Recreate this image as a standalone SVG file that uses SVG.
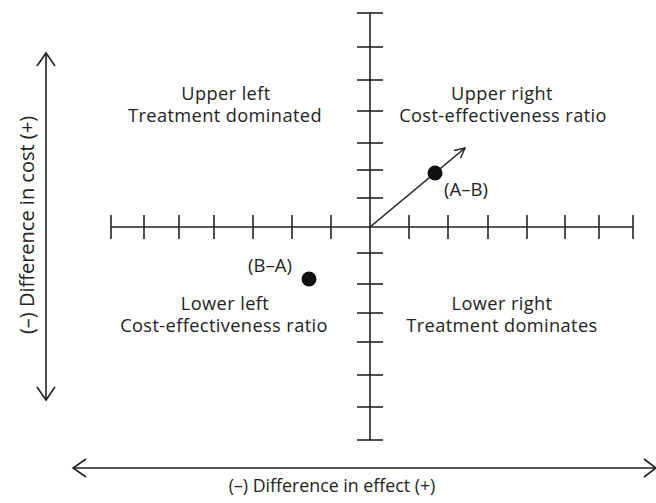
<svg xmlns="http://www.w3.org/2000/svg" width="656" height="503" viewBox="0 0 656 503">
<style>
.ax{stroke:#222;stroke-width:1.6;fill:none}
.tk{stroke:#222;stroke-width:1.6}
.t{font-family:"Open Sans","Liberation Sans",sans-serif;font-size:18.2px;letter-spacing:0.4px;fill:#222;text-anchor:middle}
.pl{font-size:18.5px;letter-spacing:0}
.yl{font-size:20px;letter-spacing:0}
.xl{font-size:17.8px;letter-spacing:0}
.dot{fill:#111}
</style>
<defs>
<marker id="open" viewBox="0 0 12 12" refX="11" refY="6" markerWidth="12" markerHeight="12" markerUnits="userSpaceOnUse" orient="auto">
<polyline points="1,1 11,6 1,11" fill="none" stroke="#222" stroke-width="1.4"/>
</marker>
</defs>
<rect width="656" height="503" fill="#fff"/>
<g id="connectors">
<line class="ax" x1="370" y1="13" x2="370" y2="440"/>
<line class="ax" x1="111" y1="227" x2="633" y2="227"/>
<g class="tk">
<line x1="357" y1="13" x2="383" y2="13"/>
<line x1="357" y1="47" x2="383" y2="47"/>
<line x1="357" y1="80" x2="383" y2="80"/>
<line x1="357" y1="111" x2="383" y2="111"/>
<line x1="357" y1="143" x2="383" y2="143"/>
<line x1="357" y1="170" x2="383" y2="170"/>
<line x1="357" y1="198" x2="383" y2="198"/>
<line x1="357" y1="253" x2="383" y2="253"/>
<line x1="357" y1="284" x2="383" y2="284"/>
<line x1="357" y1="313" x2="383" y2="313"/>
<line x1="357" y1="342" x2="383" y2="342"/>
<line x1="357" y1="375" x2="383" y2="375"/>
<line x1="357" y1="407" x2="383" y2="407"/>
<line x1="357" y1="440" x2="383" y2="440"/>
<line x1="111" y1="215" x2="111" y2="239"/>
<line x1="144" y1="215" x2="144" y2="239"/>
<line x1="179" y1="215" x2="179" y2="239"/>
<line x1="214" y1="215" x2="214" y2="239"/>
<line x1="253" y1="215" x2="253" y2="239"/>
<line x1="292" y1="215" x2="292" y2="239"/>
<line x1="331" y1="215" x2="331" y2="239"/>
<line x1="409" y1="215" x2="409" y2="239"/>
<line x1="448" y1="215" x2="448" y2="239"/>
<line x1="488" y1="215" x2="488" y2="239"/>
<line x1="527" y1="215" x2="527" y2="239"/>
<line x1="565" y1="215" x2="565" y2="239"/>
<line x1="599" y1="215" x2="599" y2="239"/>
<line x1="633" y1="215" x2="633" y2="239"/>
</g>
<line class="ax" x1="370" y1="227" x2="465" y2="148" marker-end="url(#open)" stroke-width="1.4"/>
<g class="ax" stroke-width="1.4">
<line x1="46" y1="53" x2="46" y2="400"/>
<polyline points="37,66 46,53 55,66"/>
<polyline points="37,387 46,400 55,387"/>
<line x1="73" y1="468" x2="656" y2="468"/>
<polyline points="86,459 73,468 86,477"/>
<polyline points="644,459 656,468 644,477"/>
</g>
</g>
<g id="point-ab">
<circle class="dot" cx="435" cy="173" r="7.5"/>
<text class="t pl" x="466" y="196">(A–B)</text>
</g>
<g id="point-ba">
<circle class="dot" cx="309" cy="279" r="7.5"/>
<text class="t pl" x="270" y="272">(B–A)</text>
</g>
<g id="upper-left">
<text class="t" x="226" y="100">Upper left</text>
<text class="t" x="225" y="122">Treatment dominated</text>
</g>
<g id="upper-right">
<text class="t" x="502" y="100">Upper right</text>
<text class="t" x="503" y="122">Cost-effectiveness ratio</text>
</g>
<g id="lower-left">
<text class="t" x="225" y="310">Lower left</text>
<text class="t" x="224" y="332">Cost-effectiveness ratio</text>
</g>
<g id="lower-right">
<text class="t" x="502" y="310">Lower right</text>
<text class="t" x="502" y="332">Treatment dominates</text>
</g>
<g id="axis-labels">
<text class="t yl" transform="translate(34,225) rotate(-90)">(–) Difference in cost (+)</text>
<text class="t xl" x="332" y="492">(–) Difference in effect (+)</text>
</g>
</svg>
